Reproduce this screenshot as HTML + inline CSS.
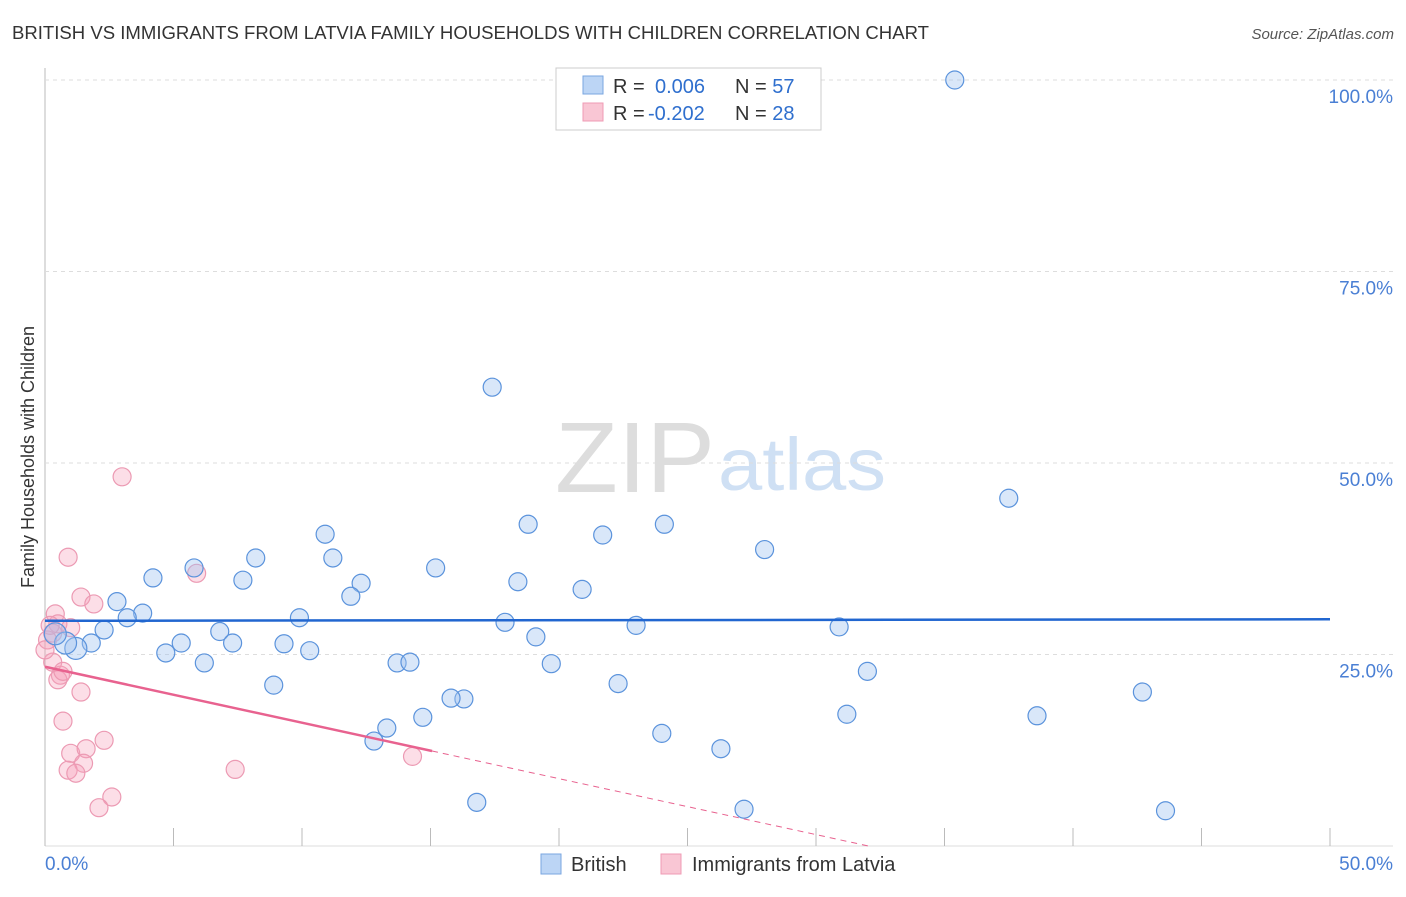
<!DOCTYPE html>
<html><head><meta charset="utf-8"><style>
body{margin:0;background:#fff;font-family:"Liberation Sans",sans-serif}
svg text{font-family:"Liberation Sans",sans-serif}
</style></head><body>
<svg id="c" width="1406" height="892">
<text x="12" y="39" font-size="18" fill="#333" textLength="917" lengthAdjust="spacingAndGlyphs">BRITISH VS IMMIGRANTS FROM LATVIA FAMILY HOUSEHOLDS WITH CHILDREN CORRELATION CHART</text>
<text x="1394" y="39" font-size="15" fill="#555" text-anchor="end" font-style="italic">Source: ZipAtlas.com</text>
<text x="715" y="492" font-size="100" fill="#ddd" text-anchor="end" font-family="Liberation Serif" textLength="160" lengthAdjust="spacingAndGlyphs">ZIP</text>
<text x="718" y="490" font-size="74" fill="#cfe0f4" textLength="168" lengthAdjust="spacingAndGlyphs">atlas</text>
<text transform="translate(34,457) rotate(-90)" font-size="18" fill="#333" text-anchor="middle">Family Households with Children</text>
<g id="grid"></g><g id="marks"></g>
<g>
<rect x="556" y="68" width="265" height="62" fill="#fff" stroke="#ccc"/>
<rect x="583" y="76" width="20" height="18" fill="#bcd5f5" stroke="#7aa6e0"/>
<rect x="583" y="103" width="20" height="18" fill="#f9c6d4" stroke="#ef9bb4"/>
<text x="613" y="93" font-size="20" fill="#333">R = <tspan fill="#2f6fce" x="655">0.006</tspan><tspan x="735" fill="#333">N = </tspan><tspan fill="#2f6fce">57</tspan></text>
<text x="613" y="120" font-size="20" fill="#333">R = <tspan fill="#2f6fce" x="648">-0.202</tspan><tspan x="735" fill="#333">N = </tspan><tspan fill="#2f6fce">28</tspan></text>
</g>
<g>
<rect x="541" y="854" width="20" height="20" fill="#bcd5f5" stroke="#7aa6e0"/>
<text x="571" y="871" font-size="20" fill="#333">British</text>
<rect x="661" y="854" width="20" height="20" fill="#f9c6d4" stroke="#ef9bb4"/>
<text x="692" y="871" font-size="20" fill="#333">Immigrants from Latvia</text>
</g>
</svg>
<script>
const britishX=[35.4,17.4,37.5,18.8,24.1,21.7,10.9,28,11.2,8.2,15.2,5.8,4.2,7.7,18.4,12.3,11.9,20.9,2.8,3.8,3.2,9.9,17.9,23,30.9,2.3,6.8,19.1,1.8,5.3,7.3,9.3,4.7,10.3,1.2,0.8,0.4,6.2,13.7,14.2,19.7,32,8.9,22.3,16.3,15.8,42.7,14.7,31.2,38.6,13.3,12.8,24,26.3,16.8,27.2,43.6];
const britishY=[100,59.9,45.4,42,42,40.6,40.7,38.7,37.6,37.6,36.3,36.3,35,34.7,34.5,34.3,32.6,33.5,31.9,30.4,29.8,29.8,29.2,28.8,28.6,28.2,28,27.3,26.5,26.5,26.5,26.4,25.2,25.5,25.8,26.5,27.7,23.9,23.9,24,23.8,22.8,21,21.2,19.2,19.3,20.1,16.8,17.2,17,15.4,13.7,14.7,12.7,5.7,4.8,4.6];
const latviaX=[3.0,0.9,5.9,1.4,1.9,0.4,0.5,1.0,0.3,0.1,0.3,0.6,0.5,1.4,0.7,2.3,1.0,1.6,1.5,0.9,1.2,7.4,14.3,2.6,2.1,0.2,0,0.7];
const latviaY=[48.2,37.7,35.6,32.5,31.6,30.3,29.0,28.5,27.8,26.9,24.0,22.3,21.7,20.1,16.3,13.8,12.1,12.7,10.8,9.9,9.5,10.0,11.7,6.4,5.0,28.8,25.6,22.8];
const yTicks=[25,50,75,100];
const trendBlue=[29.4,29.6];
const trendPink=[23.4,12.4];
const pinkSolidEnd=15.06;
const X0=45,X1=1330,Y0=846,Y100=80;
const sx=v=>X0+(X1-X0)*v/50, sy=v=>Y0-(Y0-Y100)*v/100;
const NS="http://www.w3.org/2000/svg";
const g=document.getElementById('grid'),m=document.getElementById('marks');
function el(t,a,p){const e=document.createElementNS(NS,t);for(const k in a)e.setAttribute(k,a[k]);p.appendChild(e);return e;}
const ya=el('line',{x1:X0,x2:X0,y1:68,y2:Y0,stroke:'#bbb'},g);


const xa=el('line',{x1:X0,x2:1393,y1:Y0,y2:Y0,stroke:'#ddd'},g);


yTicks.forEach(t=>{
 const l=el('line',{x1:X0,x2:1393,y1:sy(t),y2:sy(t),stroke:'#ddd','stroke-dasharray':'4 4'},g);
 
 
 const tx=el('text',{x:1393,y:sy(t)+23,'font-size':19,fill:'#4a7fd4','text-anchor':'end'},g);
 tx.textContent=t.toFixed(1)+'%';
 
 
});
for(let i=0;i<=10;i++){
 const l=el('line',{x1:sx(i*5),x2:sx(i*5),y1:828,y2:Y0,stroke:'#bbb'},g);
 
 
}
[[0,'0.0%','start',45],[50,'50.0%','end',1393]].forEach(a=>{
 const t=el('text',{x:a[3],y:870,'font-size':19,fill:'#4a7fd4','text-anchor':a[2]},g);
 t.textContent=a[1];
 
 
});
latviaX.forEach((x,i)=>{
 const c=el('circle',{cx:sx(x),cy:sy(latviaY[i]),r:9,fill:'rgba(245,160,185,0.35)',stroke:'#ec9ab3','stroke-width':1.2},m);
 
 
});
britishX.forEach((x,i)=>{
 const c=el('circle',{cx:sx(x),cy:sy(britishY[i]),r:(x<1.5?11:9),fill:'rgba(160,195,240,0.4)',stroke:'#5b93dc','stroke-width':1.2},m);
 
 
});
const tb=el('line',{x1:sx(0),x2:sx(50),y1:sy(trendBlue[0]),y2:sy(trendBlue[1]),stroke:'#2166d0','stroke-width':2.5},m);


const slope=(trendPink[1]-trendPink[0])/pinkSolidEnd;
const xz=-trendPink[0]/slope;
const tp=el('line',{x1:sx(0),x2:sx(pinkSolidEnd),y1:sy(trendPink[0]),y2:sy(trendPink[1]),stroke:'#e8628f','stroke-width':2.5},m);


const td=el('line',{x1:sx(pinkSolidEnd),x2:sx(xz),y1:sy(trendPink[1]),y2:sy(0),stroke:'#e8628f','stroke-width':1,'stroke-dasharray':'6 5'},m);


</script>
</body></html>
